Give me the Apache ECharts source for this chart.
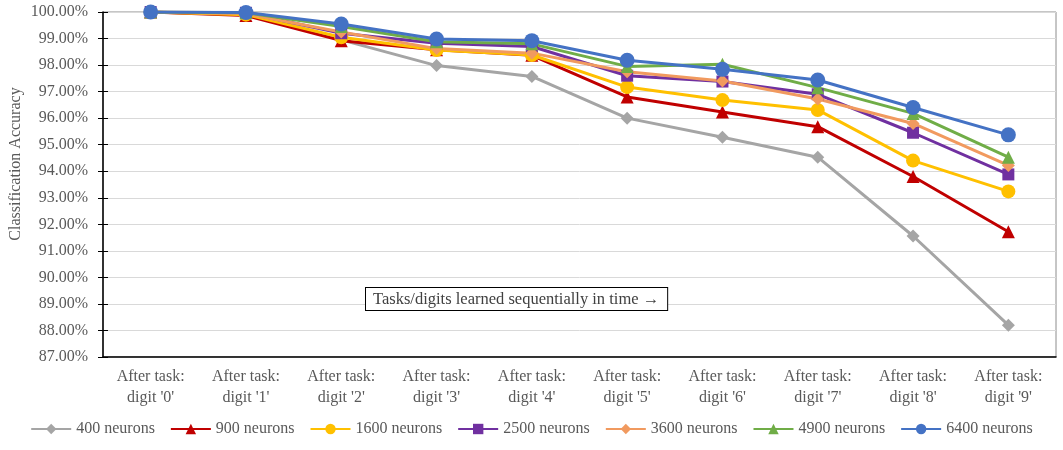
<!DOCTYPE html>
<html>
<head>
<meta charset="utf-8">
<script src="https://cdn.jsdelivr.net/npm/echarts@6/dist/echarts.min.js"></script>
<style>
  html, body { margin: 0; padding: 0; background: #fff; }
  #chart { width: 1063px; height: 450px; }
</style>
</head>
<body>
<div id="chart"></div>
<script>
const tasks = ["After task:\ndigit '0'", "After task:\ndigit '1'", "After task:\ndigit '2'", "After task:\ndigit '3'", "After task:\ndigit '4'",
  "After task:\ndigit '5'", "After task:\ndigit '6'", "After task:\ndigit '7'", "After task:\ndigit '8'", "After task:\ndigit '9'"];

const seriesNames = ['400 neurons', '900 neurons', '1600 neurons', '2500 neurons', '3600 neurons', '4900 neurons', '6400 neurons'];

const n400  = [100, 99.90, 98.95, 97.98, 97.57, 96.00, 95.28, 94.53, 91.56, 88.20];
const n900  = [100, 99.87, 98.92, 98.58, 98.37, 96.80, 96.23, 95.68, 93.80, 91.72];
const n1600 = [100, 99.90, 99.05, 98.57, 98.38, 97.17, 96.68, 96.31, 94.40, 93.24];
const n2500 = [100, 99.97, 99.20, 98.82, 98.70, 97.60, 97.38, 96.90, 95.45, 93.88];
const n3600 = [100, 99.93, 99.25, 98.62, 98.45, 97.75, 97.40, 96.72, 95.80, 94.22];
const n4900 = [100, 99.97, 99.45, 98.88, 98.80, 97.95, 98.03, 97.15, 96.18, 94.53];
const n6400 = [100, 99.98, 99.55, 98.98, 98.92, 98.18, 97.84, 97.44, 96.40, 95.37];

const yTitle = 'Classification Accuracy';
const annotation = 'Tasks/digits learned sequentially in time \u2192';

const font = "'Liberation Serif', 'Times New Roman', serif";
const textColor = '#595959';

const styles = [
  { color: '#A5A5A5', symbol: 'diamond', size: 13 },
  { color: '#C00000', symbol: 'triangle', size: 13 },
  { color: '#FFC000', symbol: 'circle', size: 14 },
  { color: '#7030A0', symbol: 'rect', size: 12 },
  { color: '#F19A5F', symbol: 'diamond', size: 13 },
  { color: '#70AD47', symbol: 'triangle', size: 13 },
  { color: '#4472C4', symbol: 'circle', size: 15 },
];
const allData = [n400, n900, n1600, n2500, n3600, n4900, n6400];

const chart = echarts.init(document.getElementById('chart'));

const yBase = { type: 'value', min: 87, max: 100, interval: 1 };

chart.setOption({
  animation: false,
  grid: {
    left: 103, right: 7, top: 12, bottom: 93,
    show: true, borderColor: '#8c8c8c', borderWidth: 1,
  },
  legend: {
    bottom: 8,
    left: 'center',
    itemWidth: 40,
    itemHeight: 13,
    itemGap: 15,
    data: seriesNames,
    textStyle: { fontFamily: font, fontSize: 16, color: textColor },
  },
  xAxis: {
    type: 'category',
    data: tasks,
    axisLine: { lineStyle: { color: '#000', width: 1.5 } },
    axisTick: { alignWithLabel: true, inside: true, length: 5, lineStyle: { color: '#000' } },
    axisLabel: { fontFamily: font, fontSize: 16, color: textColor, lineHeight: 21, margin: 9 },
  },
  yAxis: [{
    ...yBase,
    axisLine: { show: true, lineStyle: { color: '#000', width: 1.5 } },
    axisTick: { show: true, length: 5, lineStyle: { color: '#000' } },
    axisLabel: {
      fontFamily: font, fontSize: 16, color: textColor, margin: 15,
      formatter: (v) => v.toFixed(2) + '%',
    },
    splitLine: { lineStyle: { color: '#D9D9D9', width: 1 } },
  }, {
    // inner half of the crossing ticks
    ...yBase,
    position: 'left',
    axisLine: { show: false },
    axisTick: { show: true, inside: true, length: 5, lineStyle: { color: '#000' } },
    axisLabel: { show: false },
    splitLine: { show: false },
  }],
  graphic: [{
    type: 'text',
    x: 16,
    y: 164,
    rotation: Math.PI / 2,
    style: {
      text: yTitle,
      fontFamily: font,
      fontSize: 16,
      fill: textColor,
      textAlign: 'center',
      textVerticalAlign: 'middle',
    },
  }, {
    type: 'text',
    left: 365,
    top: 287,
    z: 100,
    style: {
      text: annotation,
      fontFamily: font,
      fontSize: 16.5,
      fill: '#404040',
      backgroundColor: '#fff',
      borderColor: '#000',
      borderWidth: 1,
      padding: [3, 8, 2, 7],
    },
  }],
  series: seriesNames.map((name, i) => ({
    name,
    type: 'line',
    data: allData[i],
    symbol: styles[i].symbol,
    symbolSize: styles[i].size,
    lineStyle: { color: styles[i].color, width: 3 },
    itemStyle: { color: styles[i].color },
  })),
});
</script>
</body>
</html>
